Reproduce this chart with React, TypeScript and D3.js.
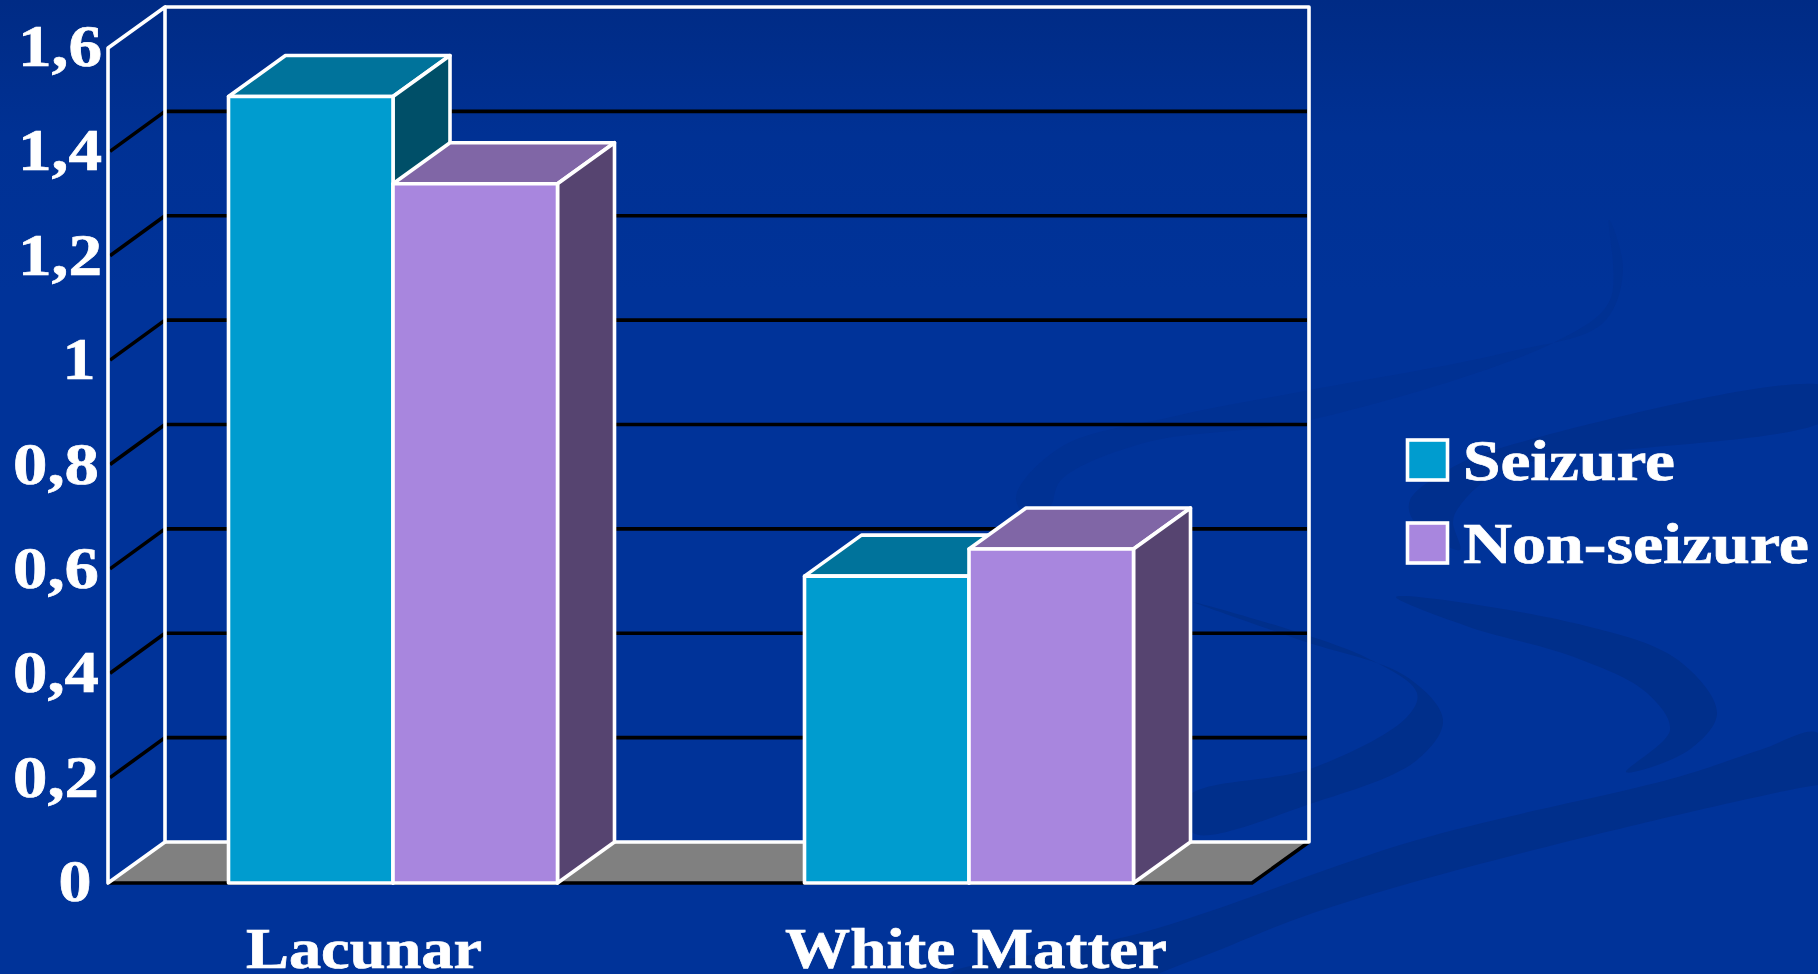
import React from "react";
import * as d3 from "d3";

const categories = ["Lacunar", "White Matter"];
const seriesNames = ["Seizure", "Non-seizure"];
const seizureValues = [1.507, 0.588];
const nonSeizureValues = [1.34, 0.64];
const yTicks = [0, 0.2, 0.4, 0.6, 0.8, 1, 1.2, 1.4, 1.6];
const tickLabels = ["0", "0,2", "0,4", "0,6", "0,8", "1", "1,2", "1,4", "1,6"];

const W = 1818, H = 974;
const front = { left: 108, right: 1252, bottom: 883, top: 48 };
const depth = { dx: 57, dy: -41 };
const y = d3.scaleLinear().domain([0, 1.6]).range([front.bottom, front.top]);
const x0 = d3.scaleBand().domain(categories).range([105, 1257]);
const barW = 164.5;
const x1 = d3.scaleBand().domain(seriesNames).range([-barW, barW]);
const labelX = d3.scaleBand().domain(categories).range([58, 1282]);

const palette = [
  { front: "#009ccf", top: "#00739b", side: "#004f68" },
  { front: "#a886de", top: "#8066a6", side: "#564470" },
];
const values = [seizureValues, nonSeizureValues];
const FONT = "'Liberation Serif','Times New Roman',serif";

// Decorative background swooshes
const swooshes: { pts: [number, number][]; fill: string }[] = [
  { fill: "#002f8b", pts: [[950,974],[1141,933],[1417,840],[1678,777],[1760,750],[1818,733],[1830,785],[1818,785],[1522,853],[1313,913],[1193,960],[1100,990]] },
  { fill: "#002f8d", pts: [[1830,388],[1504,447],[1448,470],[1410,500],[1413,520],[1460,550],[1453,522],[1459,507],[1504,470],[1830,417]] },
  { fill: "#003193", pts: [[1609,220],[1623,270],[1603,323],[1504,353],[1310,390],[1171,417],[1061,447],[1016,497],[1031,520],[1050,507],[1061,480],[1144,443],[1310,420],[1559,340],[1610,300]] },
  { fill: "#002f8b", pts: [[1396,597],[1574,623],[1678,660],[1717,713],[1689,750],[1626,772],[1670,730],[1647,693],[1574,657],[1469,627]] },
  { fill: "#002f8b", pts: [[1193,602],[1300,640],[1407,677],[1443,720],[1417,760],[1313,803],[1193,833],[1188,797],[1313,768],[1407,717],[1417,693],[1365,657]] },
];
const swooshPath = d3.line().curve(d3.curveCatmullRomClosed.alpha(0.5));

const poly = (p: number[][]) => p.map((q) => q.join(",")).join(" ");

function Label(props: any) {
  const { children, ...rest } = props;
  return (
    <text fontFamily={FONT} fontWeight="700" fill="#fff" stroke="#fff" strokeWidth={0.7} lengthAdjust="spacingAndGlyphs" {...rest}>
      {children}
    </text>
  );
}

export default function App() {
  const backL = front.left + depth.dx;
  const backR = front.right + depth.dx;
  const backB = front.bottom + depth.dy;
  const backT = front.top + depth.dy;
  const legendY = d3.scaleBand().domain(seriesNames).range([438.5, 604.5]);
  return (
    <svg width={W} height={H} viewBox={`0 0 ${W} ${H}`} style={{ position: "fixed", left: 0, top: 0, display: "block" }}>
      <defs>
        <linearGradient id="bg" x1="0" y1="0" x2="0" y2="1">
          <stop offset="0" stopColor="#002b85" />
          <stop offset="0.14" stopColor="#003194" />
          <stop offset="0.3" stopColor="#003399" />
          <stop offset="1" stopColor="#003399" />
        </linearGradient>
      </defs>
      <rect width={W} height={H} fill="url(#bg)" />
      {swooshes.map((s, i) => (
        <path key={i} d={swooshPath(s.pts) as string} fill={s.fill} />
      ))}

      {/* gridlines */}
      {yTicks.filter((t) => t > 0 && t < 1.6).map((t) => (
        <g key={t} stroke="#000" strokeWidth={3.6} fill="none">
          <line x1={front.left + 2} y1={y(t) - 1} x2={backL} y2={y(t) + depth.dy} />
          <line x1={backL} y1={y(t) + depth.dy} x2={backR - 2} y2={y(t) + depth.dy} />
        </g>
      ))}

      {/* floor */}
      <polygon
        points={poly([[front.left, front.bottom], [backL, backB], [backR, backB], [front.right, front.bottom]])}
        fill="#808080"
      />
      <polyline
        points={poly([[front.left, front.bottom], [front.right, front.bottom], [backR, backB]])}
        fill="none" stroke="#000" strokeWidth={3.6}
      />

      {/* walls */}
      <g fill="none" stroke="#fff" strokeWidth={3.6} strokeLinejoin="round">
        <polygon points={poly([[front.left, front.bottom], [front.left, front.top], [backL, backT], [backL, backB]])} />
        <polyline points={poly([[backL, backB], [backR, backB], [backR, backT], [backL, backT]])} />
      </g>

      {/* bars */}
      {categories.map((c, ci) =>
        seriesNames.map((s, si) => {
          const xa = (x0(c) as number) + x0.bandwidth() / 2 + (x1(s) as number);
          const xb = xa + x1.bandwidth();
          const yt = y(values[si][ci]);
          const yb = y(0);
          const col = palette[si];
          return (
            <g key={s + c} stroke="#fff" strokeWidth={3.6} strokeLinejoin="round">
              <polygon fill={col.top} points={poly([[xa, yt], [xa + depth.dx, yt + depth.dy], [xb + depth.dx, yt + depth.dy], [xb, yt]])} />
              <polygon fill={col.side} points={poly([[xb, yt], [xb + depth.dx, yt + depth.dy], [xb + depth.dx, yb + depth.dy], [xb, yb]])} />
              <rect x={xa} y={yt} width={xb - xa} height={yb - yt} fill={col.front} />
            </g>
          );
        })
      )}

      {/* y tick labels */}
      {yTicks.map((t, i) => {
        const isInt = tickLabels[i].length === 1;
        return isInt ? (
          <Label key={t} x={t === 0 ? 75 : 79} y={y(t) + 18} fontSize={59} textAnchor="middle" textLength={33}>
            {tickLabels[i]}
          </Label>
        ) : (
          <Label key={t} x={t >= 1 ? 60 : 56} y={y(t) + 18} fontSize={59} textAnchor="middle" textLength={t >= 1 ? 84 : 86}>
            {tickLabels[i]}
          </Label>
        );
      })}

      {/* category labels */}
      {categories.map((c, i) => (
        <Label key={c} x={(labelX(c) as number) + labelX.bandwidth() / 2} y={968} fontSize={58} textAnchor="middle" textLength={i === 0 ? 236 : 382}>
          {c}
        </Label>
      ))}

      {/* legend */}
      {seriesNames.map((s, i) => {
        const top = legendY(s) as number;
        return (
          <g key={s}>
            <rect x={1407.5} y={top + 1.5} width={40} height={40} fill={palette[i].front} stroke="#fff" strokeWidth={3.6} />
            <Label x={1463} y={top + 41} fontSize={57} textLength={i === 0 ? 212 : 346}>
              {s}
            </Label>
          </g>
        );
      })}
    </svg>
  );
}
